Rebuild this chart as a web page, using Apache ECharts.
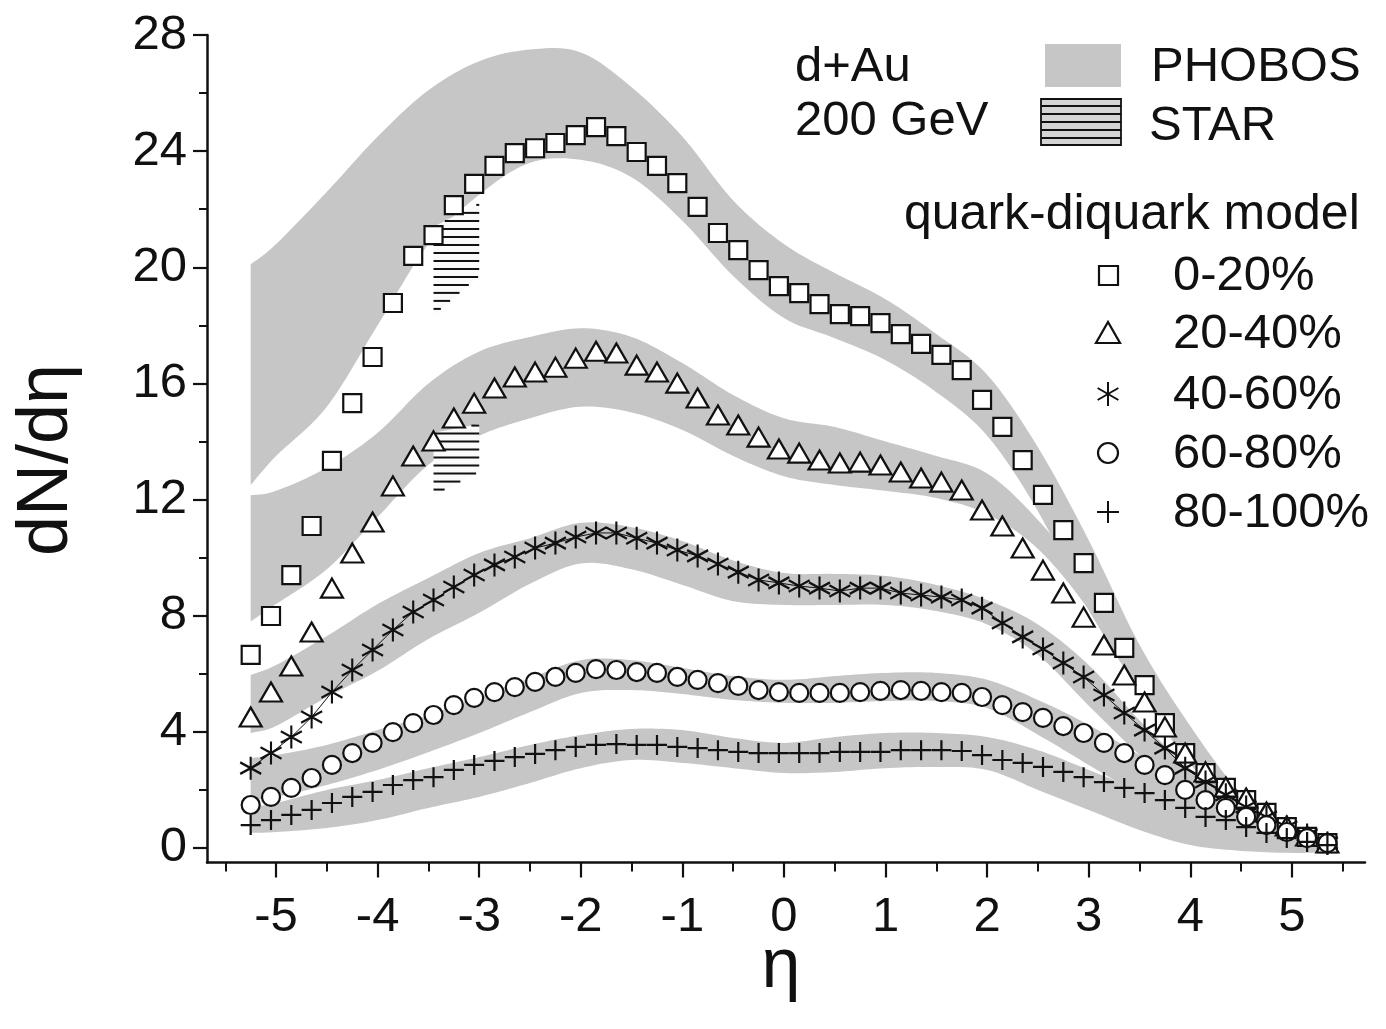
<!DOCTYPE html>
<html>
<head>
<meta charset="utf-8">
<title>dN/dη d+Au 200 GeV</title>
<script src="https://cdn.jsdelivr.net/npm/echarts@6/dist/echarts.min.js"></script>
<style>
html, body { margin: 0; padding: 0; background: #fff; }
#chart { width: 1386px; height: 1029px; }
</style>
</head>
<body>
<div id="chart"></div>
<script>
// model points (quark-diquark model), one value per eta
const eta = [-5.25, -5.05, -4.85, -4.65, -4.45, -4.25, -4.05, -3.85, -3.65, -3.45,
  -3.25, -3.05, -2.85, -2.65, -2.45, -2.25, -2.05, -1.85, -1.65, -1.45,
  -1.25, -1.05, -0.85, -0.65, -0.45, -0.25, -0.05, 0.15, 0.35, 0.55,
  0.75, 0.95, 1.15, 1.35, 1.55, 1.75, 1.95, 2.15, 2.35, 2.55,
  2.75, 2.95, 3.15, 3.35, 3.55, 3.75, 3.95, 4.15, 4.35, 4.55,
  4.75, 4.95, 5.15, 5.35]
const c0020 = [6.65, 7.99, 9.40, 11.09, 13.33, 15.32, 16.91, 18.77, 20.39, 21.11,
  22.14, 22.87, 23.49, 23.93, 24.10, 24.28, 24.55, 24.83, 24.52, 23.97,
  23.49, 22.90, 22.08, 21.18, 20.59, 19.90, 19.35, 19.11, 18.73, 18.39,
  18.32, 18.08, 17.70, 17.36, 16.98, 16.46, 15.43, 14.50, 13.36, 12.16,
  10.95, 9.81, 8.44, 6.89, 5.61, 4.30, 3.27, 2.58, 2.07, 1.65,
  1.21, 0.72, 0.38, 0.17]
const c2040 = [4.51, 5.37, 6.27, 7.44, 8.95, 10.16, 11.23, 12.47, 13.50, 14.02,
  14.81, 15.32, 15.84, 16.22, 16.39, 16.56, 16.87, 17.11, 17.05, 16.63,
  16.39, 16.01, 15.50, 14.91, 14.57, 14.15, 13.74, 13.60, 13.36, 13.26,
  13.29, 13.19, 12.95, 12.74, 12.60, 12.33, 11.64, 11.09, 10.33, 9.57,
  8.78, 7.95, 6.99, 5.96, 5.03, 4.17, 3.27, 2.62, 2.10, 1.72,
  1.24, 0.76, 0.41, 0.17]
const c4060 = [2.75, 3.27, 3.82, 4.51, 5.37, 6.13, 6.82, 7.51, 8.13, 8.54,
  8.99, 9.40, 9.75, 10.02, 10.33, 10.50, 10.71, 10.85, 10.85, 10.67,
  10.50, 10.26, 10.06, 9.78, 9.50, 9.23, 9.13, 9.02, 8.95, 8.85,
  8.95, 8.95, 8.78, 8.71, 8.64, 8.54, 8.26, 7.75, 7.27, 6.85,
  6.37, 5.89, 5.27, 4.65, 4.06, 3.44, 2.75, 2.27, 1.83, 1.41,
  1.07, 0.72, 0.45, 0.17]
const c6080 = [1.48, 1.76, 2.07, 2.41, 2.86, 3.27, 3.62, 3.99, 4.30, 4.58,
  4.92, 5.17, 5.37, 5.54, 5.72, 5.89, 6.03, 6.16, 6.13, 6.06,
  6.03, 5.89, 5.79, 5.68, 5.58, 5.44, 5.37, 5.34, 5.34, 5.34,
  5.37, 5.41, 5.44, 5.41, 5.37, 5.34, 5.20, 4.92, 4.68, 4.48,
  4.20, 3.96, 3.62, 3.27, 2.86, 2.51, 2.00, 1.65, 1.38, 1.07,
  0.79, 0.55, 0.34, 0.17]
const c80100 = [0.79, 0.96, 1.14, 1.31, 1.55, 1.76, 1.93, 2.17, 2.34, 2.44,
  2.69, 2.86, 3.00, 3.13, 3.24, 3.37, 3.48, 3.55, 3.58, 3.55,
  3.55, 3.48, 3.44, 3.37, 3.31, 3.27, 3.27, 3.27, 3.27, 3.31,
  3.31, 3.31, 3.37, 3.37, 3.37, 3.34, 3.20, 3.03, 2.93, 2.79,
  2.62, 2.44, 2.27, 2.07, 1.89, 1.65, 1.38, 1.07, 0.96, 0.72,
  0.52, 0.34, 0.21, 0.10]

// PHOBOS bands (lower / upper edge)
const bandEta = [-5.25, -5.0, -4.5, -4.0, -3.5, -3.0, -2.5, -2.0, -1.5, -1.0, -0.5, 0,
  0.5, 1.0, 1.5, 2.0, 2.5, 3.0, 3.5, 4.0, 4.5, 5.0, 5.45]
const ph0020Up = [20.1, 20.8, 22.6, 24.5, 26.1, 27.1, 27.5, 27.4, 26.2, 24.5, 22.3, 20.8,
  19.8, 18.9, 17.7, 16.3, 13.8, 10.6, 7.0, 4.2, 1.9, 0.72, 0.28]
const ph0020Lo = [12.5, 13.5, 15.2, 18.0, 20.8, 22.5, 23.6, 23.7, 23.1, 21.6, 19.7, 18.25,
  17.56, 16.8, 15.7, 14.2, 11.6, 8.2, 5.4, 2.9, 1.3, 0.45, 0.1]
const ph2040Up = [12.15, 12.3, 13.1, 14.3, 16.0, 17.1, 17.6, 17.9, 17.6, 16.7, 15.6, 14.8,
  14.5, 14.0, 13.5, 12.9, 11.3, 9.1, 6.5, 3.9, 1.8, 0.6, 0.2]
const ph2040Lo = [7.8, 8.4, 9.6, 11.4, 13.2, 14.2, 14.8, 15.2, 15.0, 14.4, 13.5, 12.8,
  12.5, 12.3, 12.05, 11.5, 10.3, 8.2, 5.4, 2.9, 1.1, 0.34, 0.07]
const ph4060Up = [5.96, 6.3, 7.3, 8.4, 9.3, 10.16, 10.67, 11.2, 11.05, 10.57, 9.9, 9.47,
  9.44, 9.37, 9.06, 8.54, 7.7, 6.3, 4.4, 2.7, 1.3, 0.55, 0.2]
const ph4060Lo = [3.96, 4.2, 5.2, 6.1, 7.2, 8.1, 9.1, 9.8, 9.6, 9.06, 8.5, 8.37,
  8.37, 8.37, 8.16, 7.7, 6.65, 4.9, 3.2, 1.65, 0.69, 0.2, 0.0]
const ph6080Up = [3.1, 3.2, 3.55, 4.06, 4.58, 5.2, 5.85, 6.47, 6.47, 6.2, 5.92, 5.79,
  5.92, 6.03, 6.03, 5.79, 5.1, 4.24, 3.2, 2.17, 1.14, 0.52, 0.2]
const ph6080Lo = [1.65, 1.76, 2.17, 2.69, 3.3, 3.96, 4.68, 5.34, 5.44, 5.3, 5.1, 5.0,
  5.0, 5.06, 5.06, 4.82, 3.9, 2.86, 1.83, 0.9, 0.28, -0.07, -0.14]
const ph80100Up = [1.41, 1.55, 2.0, 2.34, 2.75, 3.13, 3.55, 3.89, 4.1, 4.06, 3.79, 3.62,
  3.82, 3.96, 3.96, 3.82, 3.37, 2.69, 2.0, 1.38, 0.9, 0.45, 0.2]
const ph80100Lo = [0.52, 0.55, 0.69, 0.96, 1.38, 1.76, 2.24, 2.75, 3.03, 2.93, 2.75, 2.58,
  2.62, 2.75, 2.79, 2.69, 2.0, 1.31, 0.62, 0.1, -0.1, -0.17, -0.14]

// STAR hatched boxes: eta from / to, lower and upper edge at each end
const starEta = [-3.45, -3.0]
const star0020Lo = [18.35, 19.7]
const star0020Up = [21.4, 22.2]
const star2040Lo = [12.15, 12.95]
const star2040Up = [14.3, 14.6]

const xMajor = [-5, -4, -3, -2, -1, 0, 1, 2, 3, 4, 5]
const xMinor = [-5.5, -4.5, -3.5, -2.5, -1.5, -0.5, 0.5, 1.5, 2.5, 3.5, 4.5, 5.5]
const yMajor = [0, 4, 8, 12, 16, 20, 24, 28]
const yMinor = [2, 6, 10, 14, 18, 22, 26]

const FONT = '"Liberation Sans", Arial, Helvetica, sans-serif'
const INK = '#111'
const GRAY = '#c6c6c6'
const starPath = 'path://M0,-10 L0,10 M-8.66,-5 L8.66,5 M-8.66,5 L8.66,-5'
const plusPath = 'path://M-10,0 L10,0 M0,-10 L0,10'

const chart = echarts.init(document.getElementById('chart'))

const bandList = [
  [ph0020Lo, ph0020Up], [ph2040Lo, ph2040Up], [ph4060Lo, ph4060Up],
  [ph6080Lo, ph6080Up], [ph80100Lo, ph80100Up]
]

// catmull-rom through pixel points, only to round the band edges
const spline = (p, steps) => {
  let out = []
  for (let i = 0; i < p.length - 1; i++) {
    const p0 = p[Math.max(i - 1, 0)]
    const p1 = p[i]
    const p2 = p[i + 1]
    const p3 = p[Math.min(i + 2, p.length - 1)]
    for (let s = 0; s < steps; s++) {
      const t = s / steps
      const t2 = t * t
      const t3 = t2 * t
      const f = (k) => 0.5 * (2 * p1[k] + (p2[k] - p0[k]) * t +
        (2 * p0[k] - 5 * p1[k] + 4 * p2[k] - p3[k]) * t2 +
        (3 * p1[k] - p0[k] - 3 * p2[k] + p3[k]) * t3)
      out.push([f(0), f(1)])
    }
  }
  out.push(p[p.length - 1])
  return out
}

const renderBand = (params, api) => {
  const b = bandList[api.value(0)]
  const up = bandEta.map((x, k) => api.coord([x, b[1][k]]))
  const lo = bandEta.map((x, k) => api.coord([x, b[0][k]]))
  const points = spline(up, 10).concat(spline(lo, 10).reverse())
  return { type: 'polygon', shape: { points: points }, style: { fill: GRAY } }
}

const starBoxes = [
  [starEta[0], starEta[1], star0020Lo[0], star0020Up[0], star0020Lo[1], star0020Up[1]],
  [starEta[0], starEta[1], star2040Lo[0], star2040Up[0], star2040Lo[1], star2040Up[1]]
]

const renderHatch = (params, api) => {
  const tl = api.coord([api.value(0), api.value(3)])
  const tr = api.coord([api.value(1), api.value(5)])
  const br = api.coord([api.value(1), api.value(4)])
  const bl = api.coord([api.value(0), api.value(2)])
  const pts = [tl, tr, br, bl]
  const children = [{ type: 'polygon', shape: { points: pts }, style: { fill: '#fafafa' } }]
  const top = Math.min(tl[1], tr[1])
  const bottom = Math.max(bl[1], br[1])
  for (let y = top + 1.5; y < bottom; y += 8) {
    let xs = []
    for (let k = 0; k < 4; k++) {
      const a = pts[k]
      const b = pts[(k + 1) % 4]
      if ((a[1] - y) * (b[1] - y) <= 0 && a[1] !== b[1]) {
        xs.push(a[0] + (y - a[1]) * (b[0] - a[0]) / (b[1] - a[1]))
      }
    }
    if (xs.length >= 2) {
      children.push({
        type: 'line',
        shape: { x1: Math.min(...xs), y1: y, x2: Math.max(...xs), y2: y },
        style: { stroke: INK, lineWidth: 2 }
      })
    }
  }
  return { type: 'group', children: children }
}

const pts = (vals) => eta.map((x, i) => [x, vals[i]])
const markStyle = { color: '#fff', borderColor: INK, borderWidth: 2.2, opacity: 1 }

// legend drawn with graphic elements
const lx = 1108
const rows = [275, 333, 394, 453, 512]
const legendLabels = ['0-20%', '20-40%', '40-60%', '60-80%', '80-100%']
const txt = (s, x, y, size, align) => ({
  type: 'text', x: x, y: y, z: 10,
  style: { text: s, font: size + 'px ' + FONT, fill: INK, align: align || 'left', verticalAlign: 'middle', textAlign: align || 'left', textVerticalAlign: 'middle' }
})
let graphics = [
  txt('d+Au', 795, 67, 49),
  txt('200 GeV', 795, 121, 49),
  { type: 'rect', z: 10, shape: { x: 1045, y: 44, width: 76, height: 43 }, style: { fill: GRAY } },
  txt('PHOBOS', 1151, 67, 49),
  { type: 'rect', z: 10, shape: { x: 1041, y: 99, width: 80, height: 46 }, style: { fill: '#d4d4d4', stroke: INK, lineWidth: 1.8 } },
  txt('STAR', 1149, 126, 49),
  txt('quark-diquark model', 904, 215, 50),
  { type: 'rect', z: 10, shape: { x: lx - 9, y: rows[0] - 9, width: 19, height: 19 }, style: { fill: '#fff', stroke: INK, lineWidth: 2.2 } },
  { type: 'polygon', z: 10, shape: { points: [[lx - 12, rows[1] + 10], [lx + 12, rows[1] + 10], [lx, rows[1] - 11]] }, style: { fill: '#fff', stroke: INK, lineWidth: 2.2 } },
  { type: 'circle', z: 10, shape: { cx: lx, cy: rows[3], r: 10 }, style: { fill: '#fff', stroke: INK, lineWidth: 2.2 } }
]
for (let y = 106; y < 145; y += 8) {
  graphics.push({ type: 'line', z: 11, shape: { x1: 1041, y1: y, x2: 1121, y2: y }, style: { stroke: INK, lineWidth: 2 } })
}
// star and plus legend marks
;[[0, -12, 0, 12], [-10.4, -6, 10.4, 6], [-10.4, 6, 10.4, -6]].forEach(s => {
  graphics.push({ type: 'line', z: 10, shape: { x1: lx + s[0], y1: rows[2] + s[1], x2: lx + s[2], y2: rows[2] + s[3] }, style: { stroke: INK, lineWidth: 2 } })
})
;[[-11, 0, 11, 0], [0, -11, 0, 11]].forEach(s => {
  graphics.push({ type: 'line', z: 10, shape: { x1: lx + s[0], y1: rows[4] + s[1], x2: lx + s[2], y2: rows[4] + s[3] }, style: { stroke: INK, lineWidth: 2 } })
})
legendLabels.forEach((s, i) => graphics.push(txt(s, 1173, rows[i] + 1, 49)))
// axis titles
graphics.push(Object.assign(txt('dN/dη', 47, 460, 72, 'center'), { rotation: Math.PI / 2 }))
graphics.push(txt('η', 781, 968, 70, 'center'))

const option = {
  animation: false,
  backgroundColor: '#fff',
  grid: { left: 207, right: 21, top: 35, bottom: 166.5 },
  xAxis: [
    {
      type: 'value', min: -5.68, max: 5.72, position: 'bottom',
      axisLine: { onZero: false, lineStyle: { color: INK, width: 2.5 } },
      axisTick: { customValues: xMajor, length: 15, lineStyle: { color: INK, width: 2.2 } },
      axisLabel: { customValues: xMajor, fontSize: 49, fontFamily: FONT, color: INK, margin: 30 },
      splitLine: { show: false }
    },
    {
      type: 'value', min: -5.68, max: 5.72, position: 'bottom',
      axisLine: { show: false, onZero: false },
      axisTick: { customValues: xMinor, length: 9, lineStyle: { color: INK, width: 2 } },
      axisLabel: { show: false },
      splitLine: { show: false }
    }
  ],
  yAxis: [
    {
      type: 'value', min: -0.5, max: 28, position: 'left',
      axisLine: { show: true, onZero: false, lineStyle: { color: INK, width: 2.5 } },
      axisTick: { show: true, customValues: yMajor, length: 14, lineStyle: { color: INK, width: 2.2 } },
      axisLabel: { customValues: yMajor, fontSize: 49, fontFamily: FONT, color: INK, margin: 20 },
      splitLine: { show: false }
    },
    {
      type: 'value', min: -0.5, max: 28, position: 'left',
      axisLine: { show: false, onZero: false },
      axisTick: { show: true, customValues: yMinor, length: 8, lineStyle: { color: INK, width: 2 } },
      axisLabel: { show: false },
      splitLine: { show: false }
    }
  ],
  graphic: graphics,
  series: [
    {
      type: 'custom', name: 'PHOBOS', z: 1, silent: true,
      encode: { x: -1, y: -1 },
      data: bandList.map((b, i) => [i]), renderItem: renderBand
    },
    {
      type: 'custom', name: 'STAR', z: 2, silent: true,
      encode: { x: [0, 1], y: [2, 3, 4, 5] },
      data: starBoxes, renderItem: renderHatch
    },
    {
      name: '0-20%', type: 'scatter', z: 5, data: pts(c0020),
      symbol: 'rect', symbolSize: 18, itemStyle: markStyle
    },
    {
      name: '20-40%', type: 'scatter', z: 5, data: pts(c2040),
      symbol: 'triangle', symbolSize: [22, 19], itemStyle: markStyle
    },
    {
      name: '40-60%', type: 'line', z: 5, data: pts(c4060),
      symbol: starPath, symbolSize: [21, 23], showAllSymbol: true,
      lineStyle: { color: INK, width: 1 },
      itemStyle: { color: INK, borderColor: INK, borderWidth: 2.2 }
    },
    {
      name: '60-80%', type: 'scatter', z: 5, data: pts(c6080),
      symbol: 'circle', symbolSize: 18, itemStyle: markStyle
    },
    {
      name: '80-100%', type: 'scatter', z: 5, data: pts(c80100),
      symbol: plusPath, symbolSize: 20,
      itemStyle: { color: INK, borderColor: INK, borderWidth: 2.2, opacity: 1 }
    }
  ]
}
chart.setOption(option)
</script>
</body>
</html>
